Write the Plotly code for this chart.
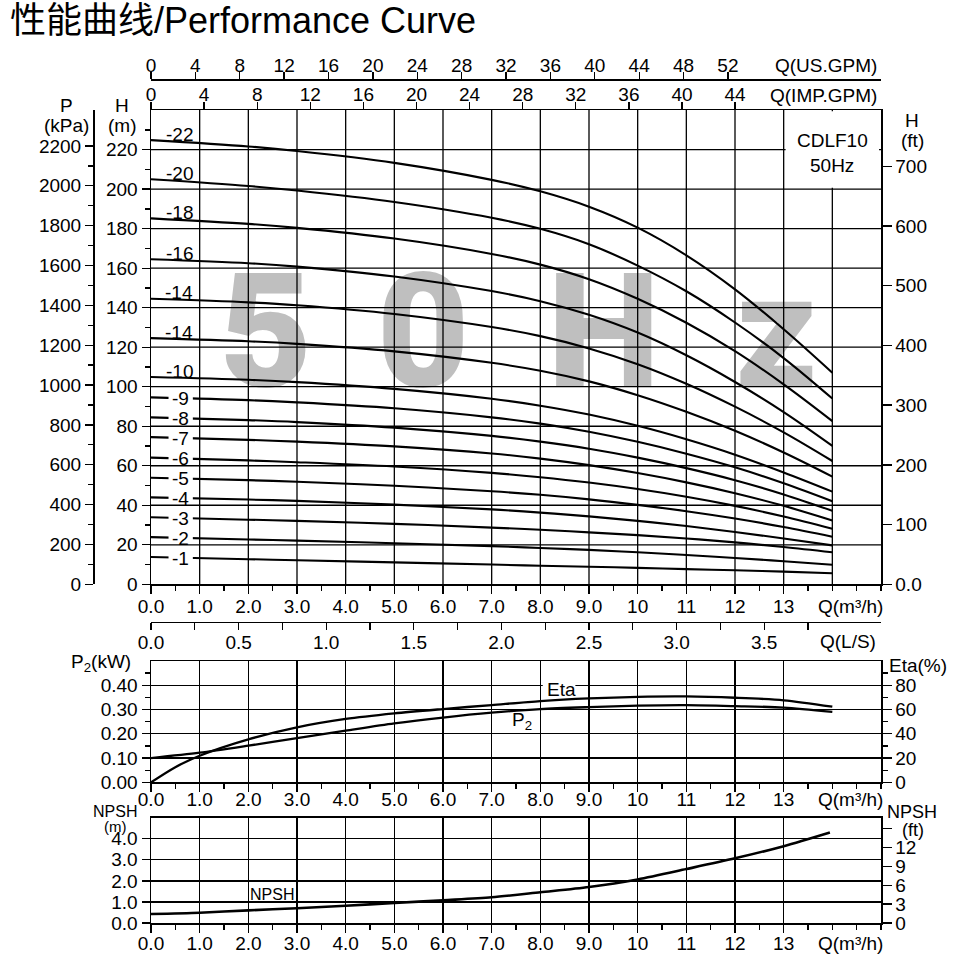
import plotly.graph_objects as go

FONT = "Liberation Sans, Arial, 'Noto Sans CJK SC', sans-serif"
BLACK = "#000000"

# ---------------- data ----------------
q_head = [0, 2, 3, 5, 7, 8, 9, 10, 11, 12, 13, 14]          # m3/h
stage_labels = ["-22", "-20", "-18", "-16", "-14", "-14", "-10",
                "-9", "-8", "-7", "-6", "-5", "-4", "-3", "-2", "-1"]
head_s22 = [224.8, 221.6, 219.3, 213.3, 204.7, 198.9, 191.1, 180.5, 166.5, 149.3, 129.1, 107.1]
head_s20 = [205.0, 201.6, 199.3, 193.5, 185.5, 179.9, 172.1, 161.3, 148.3, 132.5, 114.5, 94.0]
head_s18 = [185.2, 182.4, 180.4, 175.0, 167.2, 161.8, 154.4, 144.5, 132.4, 118.0, 101.2, 82.6]
head_s16 = [164.5, 162.5, 160.8, 155.8, 148.4, 143.3, 136.4, 127.4, 115.9, 102.4, 87.2, 70.1]
head_s14 = [144.5, 142.7, 141.2, 136.8, 130.2, 125.6, 119.4, 111.4, 101.5, 89.9, 76.9, 62.4]
head_s12 = [124.6, 123.0, 121.7, 117.9, 112.1, 108.1, 102.7, 95.7, 87.3, 77.7, 66.7, 54.5]
head_s10 = [104.9, 103.5, 102.3, 98.9, 93.9, 90.4, 85.9, 80.2, 73.4, 65.6, 56.6, 46.9]
head_s9 = [94.6, 93.2, 92.1, 89.1, 84.5, 81.3, 77.2, 72.1, 66.1, 59.2, 51.1, 42.0]
head_s8 = [84.5, 83.1, 82.1, 79.3, 75.1, 72.2, 68.6, 64.1, 58.8, 52.7, 45.5, 37.2]
head_s7 = [74.5, 73.1, 72.2, 69.8, 66.2, 63.6, 60.3, 56.3, 51.6, 46.1, 39.7, 32.3]
head_s6 = [64.1, 62.7, 61.8, 59.6, 56.4, 54.2, 51.5, 48.2, 44.3, 39.7, 34.3, 28.1]
head_s5 = [53.9, 52.7, 51.9, 49.9, 47.1, 45.3, 43.0, 40.2, 37.0, 33.3, 29.0, 24.1]
head_s4 = [44.0, 42.9, 42.2, 40.3, 37.9, 36.3, 34.4, 32.1, 29.5, 26.5, 23.2, 19.7]
head_s3 = [33.9, 32.7, 32.1, 30.6, 28.7, 27.6, 26.3, 24.9, 23.2, 21.2, 18.9, 16.2]
head_s2 = [23.9, 22.7, 22.1, 20.8, 19.3, 18.4, 17.4, 16.2, 14.8, 13.3, 11.7, 9.9]
head_s1 = [13.8, 12.7, 12.2, 11.1, 10.0, 9.4, 8.9, 8.3, 7.7, 7.1, 6.4, 5.6]
head_curves = [head_s22, head_s20, head_s18, head_s16, head_s14, head_s12, head_s10,
               head_s9, head_s8, head_s7, head_s6, head_s5, head_s4, head_s3, head_s2, head_s1]

q_p2 = [0, 1, 2, 3, 4, 5, 6, 7, 8, 9, 10, 11, 12, 13, 14]
p2_kw = [0.100, 0.122, 0.151, 0.182, 0.213, 0.243, 0.267, 0.287, 0.302, 0.310, 0.316, 0.318, 0.314, 0.308, 0.290]
q_eta = [0, 0.5, 1, 2, 3, 4, 5, 6, 7, 8, 9, 10, 11, 12, 13, 14]
eta_pct = [0, 12.5, 21.9, 35.4, 45.3, 52.2, 56.8, 60.4, 63.7, 67.0, 69.2, 70.5, 70.8, 69.7, 67.6, 62.3]
q_npsh = [0, 1, 2, 3, 4, 5, 6, 7, 8, 9, 10, 11, 12, 13, 13.95]
npsh_m = [0.43, 0.49, 0.60, 0.70, 0.82, 0.95, 1.08, 1.22, 1.46, 1.71, 2.07, 2.56, 3.07, 3.65, 4.30]

# ---------------- ticks ----------------
q_ticks = list(range(0, 14))
q_ticktext = [f"{v:.1f}" if v < 10 else str(v) for v in q_ticks]
q_minor = [v * 0.5 for v in range(1, 31) if v % 2 == 1 or v >= 28]
q_grid = list(range(1, 15))
h_m_ticks = list(range(0, 221, 20))
h_m_minor = list(range(10, 231, 20))
p_kpa_ticks = list(range(0, 2201, 200))
p_kpa_minor = list(range(100, 2101, 200))
h_ft_ticks = list(range(0, 701, 100))
h_ft_ticktext = ["0.0"] + [str(v) for v in h_ft_ticks[1:]]
imp_ticks = list(range(0, 45, 4))
us_ticks = list(range(0, 53, 4))
ls_ticks = [i * 0.5 for i in range(8)]
ls_ticktext = [f"{v:.1f}" for v in ls_ticks]
ls_minor = [0.25 + i * 0.5 for i in range(8)]
p2_ticks = [0, 0.1, 0.2, 0.3, 0.4]
p2_ticktext = [f"{v:.2f}" for v in p2_ticks]
p2_minor = [0.05, 0.15, 0.25, 0.35, 0.45]
eta_ticks = [0, 20, 40, 60, 80]
eta_minor = [10, 30, 50, 70, 90]
npsh_m_ticks = [0, 1, 2, 3, 4]
npsh_m_ticktext = [f"{v:.1f}" for v in npsh_m_ticks]
npsh_ft_ticks = [0, 3, 6, 9, 12]
npsh_ft_minor = [15]

# ---------------- layout geometry (pixels of a 960 page) ----------------
def px(x):
    return x / 960.0


def py(y):
    return 1 - y / 960.0


X_DOM = [px(151), px(881)]
Y_MAIN = [py(584.3), py(110.1)]
Y_P2 = [py(782.3), py(661)]
Y_NPSH = [py(923), py(817.7)]

fig = go.Figure()

# watermark (under everything)
fig.add_trace(go.Scatter(
    x=[2.36, 5.59, 9.30, 12.85], y=[120.5] * 4, mode="text",
    text=["5", "0", "H", "z"], textposition="middle center",
    textfont=dict(family="Roboto, Liberation Sans, Arial, sans-serif", size=160,
                  color="#bfbfbf", weight=900),
    hoverinfo="skip", showlegend=False))

# stage head curves
for lab, hv in zip(stage_labels, head_curves):
    fig.add_trace(go.Scatter(x=q_head, y=hv, mode="lines", name=lab,
                             line=dict(color=BLACK, width=2.1, shape="spline", smoothing=1.0),
                             hoverinfo="skip", showlegend=False))

# P2 & Eta
fig.add_trace(go.Scatter(x=q_p2, y=p2_kw, mode="lines", xaxis="x5", yaxis="y4",
                         line=dict(color=BLACK, width=2.3, shape="spline", smoothing=0.8),
                         hoverinfo="skip", showlegend=False))
fig.add_trace(go.Scatter(x=q_eta, y=eta_pct, mode="lines", xaxis="x5", yaxis="y5",
                         line=dict(color=BLACK, width=2.3, shape="spline", smoothing=0.8),
                         hoverinfo="skip", showlegend=False))
# NPSH
fig.add_trace(go.Scatter(x=q_npsh, y=npsh_m, mode="lines", xaxis="x6", yaxis="y6",
                         line=dict(color=BLACK, width=2.6, shape="spline", smoothing=0.8),
                         hoverinfo="skip", showlegend=False))

# invisible helpers so every secondary axis is drawn
for xa, ya in [("x2", "y"), ("x3", "y"), ("x4", "y"), ("x", "y2"), ("x", "y3"), ("x6", "y7")]:
    fig.add_trace(go.Scatter(x=[0], y=[0], mode="markers", xaxis=xa, yaxis=ya,
                             marker=dict(opacity=0), hoverinfo="skip", showlegend=False))

AX = dict(showline=True, linecolor=BLACK, linewidth=1.5, ticks="outside", tickcolor=BLACK,
          tickwidth=1.3, zeroline=False, automargin=False, showgrid=False,
          tickfont=dict(family=FONT, size=19, color=BLACK), fixedrange=True)


def minor_ticks(vals, ln=5):
    return dict(tickmode="array", tickvals=vals, ticks="outside", ticklen=ln,
                tickcolor=BLACK, tickwidth=1.3, showgrid=False)


GRID = dict(showgrid=True, gridcolor=BLACK, gridwidth=1.3)

layout = dict(
    width=960, height=960, margin=dict(l=0, r=0, t=0, b=0, pad=0), autosize=False,
    paper_bgcolor="white", plot_bgcolor="white", hovermode=False,
    font=dict(family=FONT, size=19, color=BLACK),
    # main panel
    xaxis=dict(AX, domain=X_DOM, range=[0, 15], anchor="y", tickmode="array",
               tickvals=q_ticks, ticktext=q_ticktext, ticklen=8, mirror=True,
               ticklabelstandoff=-4, minor=minor_ticks(q_minor)),
    xaxis2=dict(AX, overlaying="x", side="top", anchor="y", range=[0, 15 * 3.666],
                tickmode="array", tickvals=imp_ticks, ticklen=7, ticklabelstandoff=-7),
    xaxis3=dict(AX, overlaying="x", side="top", anchor="free", position=py(79.3),
                range=[0, 65.8], tickmode="array", tickvals=us_ticks, ticklen=7,
                ticklabelstandoff=-7),
    xaxis4=dict(AX, overlaying="x", side="bottom", anchor="free", position=py(621.7),
                range=[0, 15 / 3.6], tickmode="array", tickvals=ls_ticks,
                ticktext=ls_ticktext, ticklen=7, ticklabelstandoff=-4,
                minor=minor_ticks(ls_minor, 7)),
    yaxis=dict(AX, domain=Y_MAIN, range=[0, 240], anchor="x", tickmode="array",
               tickvals=h_m_ticks, ticklen=8, mirror=True, minor=minor_ticks(h_m_minor)),
    yaxis2=dict(AX, overlaying="y", side="left", anchor="free", position=px(93),
                range=[0, 2380], tickmode="array", tickvals=p_kpa_ticks, ticklen=8,
                minor=minor_ticks(p_kpa_minor)),
    yaxis3=dict(AX, overlaying="y", side="right", anchor="x", range=[0, 794],
                tickmode="array", tickvals=h_ft_ticks, ticktext=h_ft_ticktext, ticklen=9),
    # P2 / Eta panel
    xaxis5=dict(AX, **GRID, domain=X_DOM, range=[0, 15], anchor="y4", tickmode="array",
                tickvals=q_ticks, ticktext=q_ticktext, ticklen=8, mirror=True,
                ticklabelstandoff=-9, minor=minor_ticks(q_minor)),
    yaxis4=dict(AX, **GRID, domain=Y_P2, range=[0, 0.5], anchor="x5", tickmode="array",
                tickvals=p2_ticks, ticktext=p2_ticktext, ticklen=8, mirror=True,
                minor=minor_ticks(p2_minor)),
    yaxis5=dict(AX, overlaying="y4", side="right", anchor="x5", range=[0, 100],
                tickmode="array", tickvals=eta_ticks, ticklen=9, minor=minor_ticks(eta_minor)),
    # NPSH panel
    xaxis6=dict(AX, **GRID, domain=X_DOM, range=[0, 15], anchor="y6", tickmode="array",
                tickvals=q_ticks, ticktext=q_ticktext, ticklen=8, mirror=True,
                ticklabelstandoff=-5, minor=minor_ticks(q_minor)),
    yaxis6=dict(AX, **GRID, domain=Y_NPSH, range=[0, 5], anchor="x6", tickmode="array",
                tickvals=npsh_m_ticks, ticktext=npsh_m_ticktext, ticklen=8, mirror=True),
    yaxis7=dict(AX, overlaying="y6", side="right", anchor="x6", range=[0, 16.7],
                tickmode="array", tickvals=npsh_ft_ticks, ticklen=9,
                minor=minor_ticks(npsh_ft_minor, 9)),
)
fig.update_layout(**layout)

# ---------------- shapes ----------------
shapes = []
# white gaps where the small-stage labels sit on their curves
for lab, hv in zip(stage_labels[7:], head_curves[7:]):
    shapes.append(dict(type="rect", xref="x", yref="y", x0=0.36, x1=0.86,
                       y0=hv[0] - 3.3, y1=hv[0] + 2.8, fillcolor="white",
                       line=dict(width=0), layer="above"))
# main grid drawn over the watermark
for qv in q_grid:
    shapes.append(dict(type="line", xref="x", yref="y", x0=qv, x1=qv, y0=0, y1=240,
                       line=dict(color=BLACK, width=1.3), layer="above"))
for hv in h_m_ticks[1:]:
    shapes.append(dict(type="line", xref="x", yref="y", x0=0, x1=15, y0=hv, y1=hv,
                       line=dict(color=BLACK, width=1.3), layer="above"))
# model box
shapes.append(dict(type="rect", xref="x", yref="y", x0=13.04, x1=14.96, y0=200.7, y1=239.4,
                   fillcolor="white", line=dict(width=0), layer="above"))
# gap in the 0.40 grid line behind the "Eta" label
shapes.append(dict(type="rect", xref="x5", yref="y4", x0=8.05, x1=8.72, y0=0.39, y1=0.41,
                   fillcolor="white", line=dict(width=0), layer="above"))
fig.update_layout(shapes=shapes)

# ---------------- annotations ----------------
ann = []


def note(text, x, y, size=19, xanchor="center", yanchor="middle", **kw):
    ann.append(dict(text=text, x=px(x), y=py(y), xref="paper", yref="paper",
                    showarrow=False, xanchor=xanchor, yanchor=yanchor,
                    font=dict(family=FONT, size=size, color=BLACK), **kw))


note("性能曲线/Performance Curve", 8, 20, size=36, xanchor="left")
note("Q(US.GPM)", 879, 65, xanchor="right")
note("Q(IMP.GPM)", 879, 96, xanchor="right")
note("P", 66, 106)
note("(kPa)", 66, 126)
note("H", 122, 106)
note("(m)", 122, 126)
note("H", 912, 120)
note("(ft)", 912, 141)
note("CDLF10", 832, 141)
note("50Hz", 832, 165)
note("Q(m³/h)", 885, 606, xanchor="right")
note("Q(L/S)", 878, 641, xanchor="right")
note("P<sub>2</sub>(kW)", 133, 663, xanchor="right")
note("Eta(%)", 887, 665, xanchor="left")
note("Eta", 561, 689)
note("P<sub>2</sub>", 522, 721)
note("Q(m³/h)", 885, 799, xanchor="right")
note("NPSH", 115, 811, size=16)
note("(m)", 115, 826, size=15)
note("NPSH", 912, 812, size=18)
note("(ft)", 913, 830, size=18)
note("NPSH", 272, 894, size=16)
note("Q(m³/h)", 885, 943, xanchor="right")

for i, (lab, hv) in enumerate(zip(stage_labels, head_curves)):
    if i < 7:
        ann.append(dict(text=lab, x=0.58, y=hv[0], xref="x", yref="y", showarrow=False,
                        xanchor="center", yanchor="middle", yshift=6,
                        font=dict(family=FONT, size=19, color=BLACK)))
    else:
        ann.append(dict(text=lab, x=0.61, y=hv[0], xref="x", yref="y", showarrow=False,
                        xanchor="center", yanchor="middle", yshift=-1,
                        font=dict(family=FONT, size=19, color=BLACK)))

fig.update_layout(annotations=ann)

fig.write_html("out.html", config={"displayModeBar": False, "staticPlot": True},
               post_script="document.body.style.margin='0';document.body.style.overflow='hidden';")
